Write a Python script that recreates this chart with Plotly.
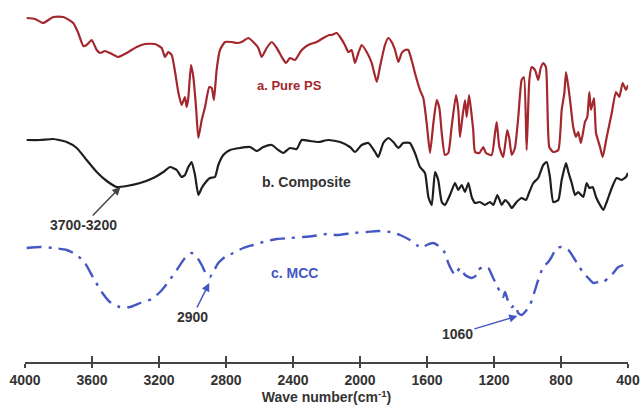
import plotly.graph_objects as go

# ---------------- data (wavenumber in cm^-1, transmittance in arbitrary stacked units) ----------------
ps_wn = [3990, 3940, 3891, 3831, 3771, 3712, 3682, 3652, 3632, 3602, 3572, 3552, 3522, 3493, 3443,
         3393, 3333, 3284, 3224, 3184, 3164, 3145, 3124, 3104, 3085, 3065, 3045, 3035, 3025, 3009,
         2995, 2979, 2965, 2945, 2925, 2900, 2885, 2872, 2856, 2836, 2806, 2766, 2736, 2706, 2667,
         2637, 2607, 2587, 2557, 2527, 2497, 2467, 2442, 2418, 2388, 2348, 2309, 2259, 2219, 2183,
         2169, 2139, 2119, 2090, 2070, 2050, 2030, 2010, 1990, 1960, 1930, 1900, 1881, 1851, 1831,
         1811, 1791, 1771, 1751, 1731, 1712, 1692, 1672, 1642, 1622, 1602, 1582, 1562, 1542, 1526,
         1512, 1493, 1473, 1453, 1427, 1413, 1403, 1387, 1373, 1363, 1349, 1337, 1324, 1313, 1287,
         1264, 1248, 1214, 1194, 1184, 1168, 1145, 1121, 1109, 1094, 1075, 1055, 1035, 1021, 1005,
         989, 975, 955, 936, 921, 906, 890, 870, 846, 816, 796, 780, 770, 756, 746,
         727, 711, 697, 681, 657, 643, 631, 621, 603, 591, 567, 551, 527, 497, 472,
         452, 432, 412, 400]
ps_t = [344, 343, 339, 345, 345, 339, 329, 316, 317, 322, 312, 309, 311, 309, 305,
        309, 315, 318, 318, 314, 305, 310, 307, 290, 270, 257, 265, 255, 264, 297,
        285, 255, 224, 242, 255, 275, 274, 262, 292, 312, 320, 320, 319, 320, 324,
        320, 314, 305, 314, 320, 314, 305, 299, 304, 302, 312, 317, 320, 324, 327,
        327, 329, 325, 317, 310, 312, 299, 309, 317, 310, 299, 280, 295, 317, 324,
        320, 312, 300, 309, 312, 312, 302, 289, 272, 264, 239, 209, 239, 262, 254,
        229, 207, 209, 235, 267, 252, 225, 247, 262, 245, 267, 252, 232, 210, 209,
        215, 209, 207, 229, 240, 215, 205, 232, 224, 207, 214, 245, 282, 285, 212,
        282, 295, 292, 282, 294, 299, 295, 215, 210, 212, 252, 269, 290, 275, 262,
        235, 225, 230, 219, 240, 245, 270, 252, 264, 229, 215, 205, 225, 249, 270,
        265, 279, 272, 277]

comp_wn = [3990, 3910, 3831, 3751, 3691, 3632, 3572, 3512, 3453, 3393, 3313, 3234, 3174, 3134, 3094,
           3065, 3045, 3025, 3005, 2985, 2965, 2945, 2925, 2896, 2866, 2846, 2816, 2776, 2716, 2657,
           2617, 2577, 2527, 2488, 2458, 2418, 2378, 2348, 2299, 2249, 2189, 2119, 2060, 2030, 1990,
           1950, 1910, 1891, 1861, 1831, 1801, 1771, 1742, 1702, 1672, 1642, 1612, 1592, 1572, 1552,
           1533, 1512, 1493, 1463, 1433, 1413, 1393, 1373, 1353, 1333, 1313, 1284, 1254, 1224, 1204,
           1180, 1154, 1134, 1114, 1094, 1065, 1035, 1009, 989, 965, 936, 906, 885, 866, 846,
           816, 796, 770, 756, 736, 716, 697, 667, 647, 631, 611, 591, 567, 547, 527,
           497, 468, 438, 412, 400]
comp_t = [222, 222, 223, 220, 214, 202, 190, 181, 175, 176, 179, 184, 190, 195, 192,
          185, 187, 195, 200, 187, 167, 174, 179, 184, 185, 197, 207, 212, 214, 215,
          211, 215, 217, 212, 209, 214, 213, 222, 221, 220, 222, 220, 215, 210, 217,
          219, 210, 205, 219, 224, 220, 214, 219, 219, 209, 195, 189, 165, 157, 190,
          182, 160, 157, 167, 179, 172, 177, 170, 179, 165, 159, 160, 157, 160, 157,
          167, 157, 162, 159, 154, 160, 164, 162, 170, 179, 184, 197, 200, 185, 160,
          162, 182, 199, 190, 179, 167, 170, 165, 179, 174, 175, 165, 157, 152, 160,
          174, 184, 182, 185, 189]

mcc_wn = [3990, 3910, 3831, 3751, 3691, 3642, 3592, 3542, 3493, 3433, 3373, 3313, 3244, 3194, 3145,
          3094, 3045, 3005, 2975, 2945, 2915, 2896, 2876, 2846, 2806, 2756, 2697, 2637, 2577, 2497,
          2418, 2339, 2279, 2199, 2139, 2040, 1960, 1891, 1821, 1761, 1702, 1662, 1632, 1602, 1562,
          1522, 1493, 1473, 1453, 1433, 1403, 1373, 1333, 1303, 1294, 1264, 1234, 1208, 1184, 1164,
          1145, 1134, 1114, 1094, 1075, 1055, 1035, 1015, 985, 955, 936, 906, 876, 856, 826,
          796, 756, 727, 697, 667, 637, 607, 577, 547, 518, 488, 458, 428, 404]
mcc_t = [114, 115, 114, 112, 107, 99, 84, 70, 60, 55, 55, 59, 63, 70, 80,
         92, 104, 109, 105, 97, 87, 85, 90, 99, 105, 109, 114, 117, 120, 123,
         124, 125, 126, 128, 127, 129, 130, 131, 130, 127, 122, 117, 114, 117, 119,
         115, 109, 99, 92, 87, 94, 87, 84, 87, 92, 95, 94, 85, 77, 70,
         65, 70, 60, 55, 57, 49, 47, 50, 57, 72, 82, 95, 100, 105, 114,
         115, 112, 105, 97, 89, 84, 79, 80, 80, 84, 89, 95, 97, 99]

tick_vals = [4000, 3600, 3200, 2800, 2400, 2000, 1600, 1200, 800, 400]
series_names = ["a. Pure PS", "b. Composite", "c. MCC"]
peak_labels = ["3700-3200", "2900", "1060"]
peak_wn = [3430, 2900, 1060]

# ---------------- styles ----------------
RED = "#a3272c"
BLACK = "#1e1e1e"
BLUE = "#4557c2"
FONT = "Liberation Sans, Arial, sans-serif"

fig = go.Figure()
fig.add_trace(go.Scatter(x=ps_wn, y=ps_t, mode="lines", name=series_names[0],
                         line=dict(color=RED, width=2.2, shape="spline", smoothing=0.5),
                         hoverinfo="skip"))
fig.add_trace(go.Scatter(x=comp_wn, y=comp_t, mode="lines", name=series_names[1],
                         line=dict(color=BLACK, width=2.2, shape="spline", smoothing=0.5),
                         hoverinfo="skip"))
fig.add_trace(go.Scatter(x=mcc_wn, y=mcc_t, mode="lines", name=series_names[2],
                         line=dict(color=BLUE, width=2.4, dash="15px,7px,3px,7px",
                                   shape="spline", smoothing=0.6),
                         hoverinfo="skip"))
# dummy trace to register the overlay axis (used for the inner half of the crossing ticks)
fig.add_trace(go.Scatter(x=[None], y=[None], xaxis="x2", showlegend=False, hoverinfo="skip"))

# curve labels
fig.add_annotation(x=2418, y=277, xref="x", yref="y", text="<b>" + series_names[0] + "</b>",
                   showarrow=False, font=dict(color=RED, size=13, family=FONT))
fig.add_annotation(x=2322, y=180, xref="x", yref="y", text="<b>" + series_names[1] + "</b>",
                   showarrow=False, font=dict(color="#333333", size=14, family=FONT))
fig.add_annotation(x=2394, y=89, xref="x", yref="y", text="<b>" + series_names[2] + "</b>",
                   showarrow=False, font=dict(color=BLUE, size=14, family=FONT))

# peak labels, each with an arrow pointing at its band
arr_val = [175, 79, 46]
arr_off = [(-37, 38), (-17, 34), (-60, 18)]
arr_col = ["#444444", BLUE, BLUE]
for i in range(3):
    fig.add_annotation(x=peak_wn[i], y=arr_val[i], xref="x", yref="y",
                       text="<b>" + peak_labels[i] + "</b>",
                       showarrow=True, ax=arr_off[i][0], ay=arr_off[i][1],
                       arrowhead=2, arrowsize=1.1, arrowwidth=1.5, arrowcolor=arr_col[i],
                       standoff=0, font=dict(color="#333333", size=14, family=FONT))

axis_common = dict(range=[4000, 400], tickvals=tick_vals, showgrid=False, zeroline=False,
                   tickcolor="#444444", tickwidth=1.5)
fig.update_layout(
    width=642, height=416,
    margin=dict(l=25, r=14, t=0, b=54),
    paper_bgcolor="white", plot_bgcolor="white",
    showlegend=False,
    font=dict(family=FONT, color="#333333"),
    xaxis=dict(**axis_common, ticks="outside", ticklen=4, showline=True, linecolor="#444444",
               linewidth=1.5,
               ticktext=["<b>%d</b>" % v for v in tick_vals],
               tickfont=dict(size=14, color="#333333", family=FONT),
               title=dict(text="<b>Wave number(cm<sup>-1</sup>)</b>", standoff=4,
                          font=dict(size=14, color="#333333", family=FONT))),
    xaxis2=dict(**axis_common, ticks="inside", ticklen=6, overlaying="x", anchor="y",
                showticklabels=False, showline=False, side="bottom"),
    yaxis=dict(range=[0, 362], visible=False),
)

fig.write_html("out.html")
